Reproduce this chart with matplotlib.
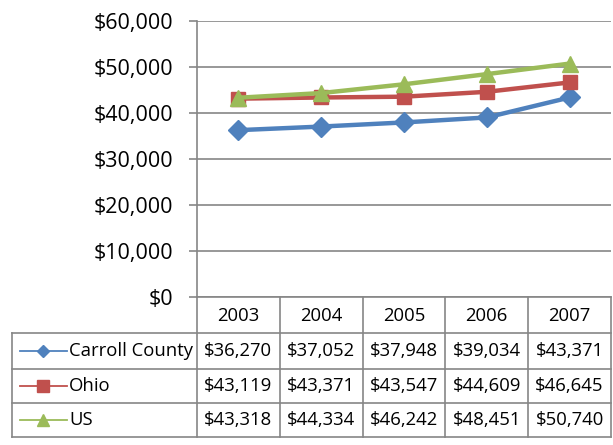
import matplotlib
matplotlib.use("Agg")
import matplotlib.pyplot as plt
from matplotlib.lines import Line2D

years = ["2003", "2004", "2005", "2006", "2007"]
series_names = ["Carroll County", "Ohio", "US"]
carroll = [36270, 37052, 37948, 39034, 43371]
ohio = [43119, 43371, 43547, 44609, 46645]
us = [43318, 44334, 46242, 48451, 50740]
y_ticks = [0, 10000, 20000, 30000, 40000, 50000, 60000]

values = [carroll, ohio, us]
colors = ["#4F81BD", "#C0504D", "#9BBB59"]
markers = ["D", "s", "^"]
msizes = [10.5, 10.5, 12]
key_ms = [6.5, 8, 8]

plt.rcParams['font.family'] = ['Open Sans', 'DejaVu Sans']
W, H = 613, 445
fig = plt.figure(figsize=(W / 100, H / 100), dpi=100)

def fx(px):
    return px / W

def fy(py):
    return 1 - py / H

grid_c = "#868686"
# Main plot axes: px x 197..611, y 21..297
L, R, T, B = 197, 611, 21, 297
ax = fig.add_axes([fx(L), fy(B), fx(R) - fx(L), fy(T) - fy(B)])
xs = list(range(len(years)))
for vals, c, m, ms in zip(values, colors, markers, msizes):
    ax.plot(xs, vals, color=c, lw=3.2, marker=m, ms=ms, zorder=3)
ax.set_xlim(-0.5, len(years) - 0.5)
ax.set_ylim(0, 60000)
ax.set_yticks(y_ticks)
ax.set_yticklabels(["${:,}".format(v) for v in y_ticks], fontsize=15.5)
ax.set_xticks([])
ax.grid(axis="y", color=grid_c, lw=1.2)
for s in ["top", "right", "bottom"]:
    ax.spines[s].set_visible(False)
ax.spines["left"].set_color(grid_c)
ax.spines["left"].set_linewidth(1.2)
ax.tick_params(axis="y", length=6, color=grid_c, width=1.2, pad=11)
ax.set_axisbelow(True)

# Data table
TL, TR, TT, TB = 12, 611, 297, 437
tab = fig.add_axes([fx(TL), fy(TB), fx(TR) - fx(TL), fy(TT) - fy(TB)])
tab.set_xlim(TL, TR)
tab.set_ylim(TB, TT)
tab.axis("off")
col_edges = [197 + i * (611 - 197) / len(years) for i in range(len(years) + 1)]
row_edges = [297, 333, 369, 403, 437]
lk = dict(color=grid_c, lw=1.2, clip_on=False)
for i, x in enumerate(col_edges):
    tab.plot([x, x], [row_edges[0], row_edges[-1]], **lk)
tab.plot([TL, TL], [row_edges[1], row_edges[-1]], **lk)
tab.plot([col_edges[0], TR], [row_edges[0], row_edges[0]], **lk)
for y in row_edges[1:]:
    tab.plot([TL, TR], [y, y], **lk)

fs = 13.3
for j, yr in enumerate(years):
    cx = (col_edges[j] + col_edges[j + 1]) / 2
    tab.text(cx, (row_edges[0] + row_edges[1]) / 2 + 1, yr, ha="center", va="center", fontsize=fs)
for i, (name, vals, c, m, kms) in enumerate(zip(series_names, values, colors, markers, key_ms)):
    cy = (row_edges[i + 1] + row_edges[i + 2]) / 2
    tab.add_line(Line2D([20, 67], [cy, cy], color=c, lw=1.3, clip_on=False))
    tab.plot([43], [cy], marker=m, color=c, ms=kms, clip_on=False)
    tab.text(69, cy, name, ha="left", va="center", fontsize=fs)
    for j, v in enumerate(vals):
        cx = (col_edges[j] + col_edges[j + 1]) / 2
        tab.text(cx, cy, "${:,}".format(v), ha="center", va="center", fontsize=fs)

fig.savefig("out.png", dpi=100)
